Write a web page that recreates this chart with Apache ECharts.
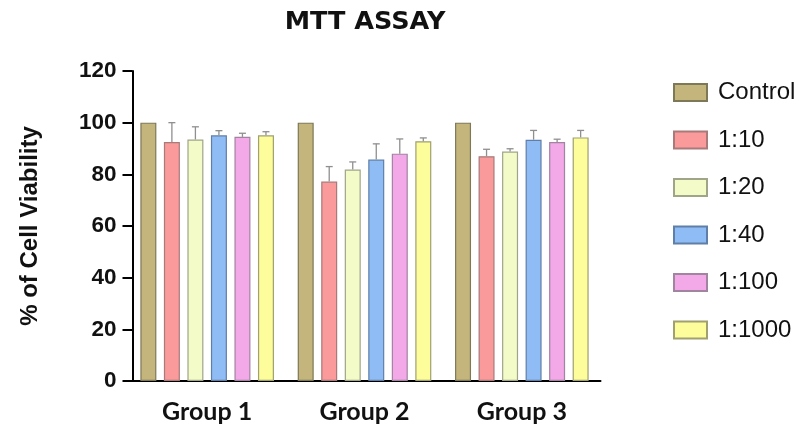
<!DOCTYPE html>
<html><head><meta charset="utf-8">
<script src="https://cdn.jsdelivr.net/npm/echarts@6/dist/echarts.min.js"></script>
<style>html,body{margin:0;padding:0;background:#fff}#c{width:799px;height:429px}</style>
</head><body><div id="c"></div>
<script>
const categories = ['Group 1', 'Group 2', 'Group 3'];
const seriesNames = ['Control', '1:10', '1:20', '1:40', '1:100', '1:1000'];
const controlVals = [100, 100, 100];
const r10Vals = [92.5, 77.2, 87.0];
const r20Vals = [93.5, 81.9, 88.8];
const r40Vals = [95.1, 85.7, 93.4];
const r100Vals = [94.5, 88.0, 92.5];
const r1000Vals = [95.1, 92.8, 94.3];
const controlErr = [0, 0, 0];
const r10Err = [7.5, 5.8, 2.7];
const r20Err = [4.9, 2.9, 1.1];
const r40Err = [1.8, 6.1, 3.6];
const r100Err = [1.4, 5.7, 1.1];
const r1000Err = [1.4, 1.3, 2.7];
const yTicks = [0, 20, 40, 60, 80, 100, 120];

const values = [controlVals, r10Vals, r20Vals, r40Vals, r100Vals, r1000Vals];
const errs = [controlErr, r10Err, r20Err, r40Err, r100Err, r1000Err];
const colors = ['#c3b57b', '#fa9a9a', '#f3fcc9', '#8fbcf5', '#f3a8e7', '#fdfd9b'];
const borders = ['#7d7858', '#a87a7a', '#a0a588', '#5f7fa8', '#a084a0', '#a0a070'];

const BW = 16, GAP = 0.47;
const series = [];
seriesNames.forEach((n, i) => {
  series.push({
    name: n, type: 'bar', data: values[i], barWidth: BW, barGap: (GAP*100)+'%',
    itemStyle: {color: colors[i], borderColor: borders[i], borderWidth: 1.2},
    z: 2
  });
});
seriesNames.forEach((n, i) => {
  series.push({
    type: 'custom', name: n + ' err', silent: true, z: 3,
    data: categories.map((c, k) => [k, values[i][k], values[i][k] + errs[i][k]]),
    renderItem: function (params, api) {
      if (errs[i][api.value(0)] <= 0) return null;
      const step = BW * (1 + GAP);
      const off = (i - (seriesNames.length - 1) / 2) * step;
      const p0 = api.coord([api.value(0), api.value(1)]);
      const p1 = api.coord([api.value(0), api.value(2)]);
      const x = p0[0] + off;
      const hw = 3.5;
      const st = {stroke: '#8f8f8f', lineWidth: 1.3};
      return {type: 'group', children: [
        {type: 'line', shape: {x1: x, y1: p0[1], x2: x, y2: p1[1]}, style: st},
        {type: 'line', shape: {x1: x - hw, y1: p1[1], x2: x + hw, y2: p1[1]}, style: st}
      ]};
    }
  });
});

const chart = echarts.init(document.getElementById('c'));
chart.setOption({
  animation: false,
  title: {text: 'MTT ASSAY', left: 360, top: 4, textAlign: 'center',
    textStyle: {fontFamily: 'DejaVu Sans', fontWeight: 'bold', fontSize: 25.5, color: '#111'}},
  legend: {
    data: seriesNames, orient: 'vertical', left: 668, top: 75.5,
    itemWidth: 33, itemHeight: 17, itemGap: 23.5, icon: 'rect',
    textStyle: {fontFamily: 'Liberation Sans, Arial', fontSize: 24, lineHeight: 24, color: '#111', padding: [0, 0, 0, 6]}
  },
  grid: {left: 128.5, right: 198.5, top: 71, bottom: 48},
  xAxis: {
    type: 'category', data: categories,
    axisLine: {lineStyle: {color: '#000', width: 2}},
    axisTick: {alignWithLabel: true, length: 8, lineStyle: {width: 2, color: '#000'}},
    axisLabel: {fontFamily: 'Lato', fontWeight: 'bold', fontSize: 25, color: '#111', margin: 18}
  },
  yAxis: {
    type: 'value', min: 0, max: 120, interval: 20, offset: -4,
    name: '% of Cell Viability', nameLocation: 'middle', nameGap: 90, nameRotate: 90,
    nameTextStyle: {fontFamily: 'Liberation Sans, Arial', fontWeight: 'bold', fontSize: 24, color: '#111'},
    axisLine: {show: true, lineStyle: {color: '#000', width: 2}},
    axisTick: {show: true, length: 10, lineStyle: {width: 2, color: '#000'}},
    splitLine: {show: false},
    axisLabel: {fontFamily: 'Liberation Sans, Arial', fontWeight: 'bold', fontSize: 22.5, color: '#111', margin: 16,
      formatter: v => yTicks.includes(v) ? String(v) : ''}
  },
  series: series
});
</script></body></html>
